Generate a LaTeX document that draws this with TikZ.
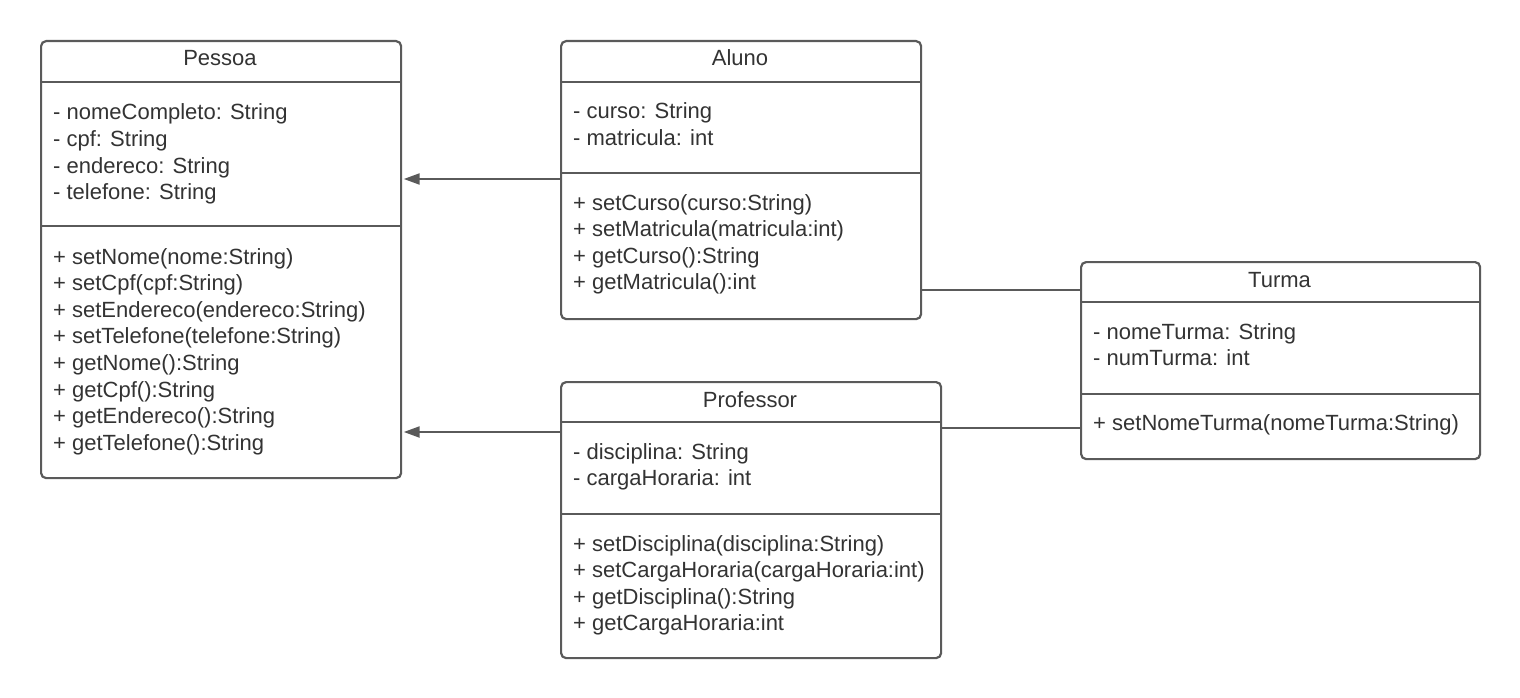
\documentclass[tikz,border=0pt]{standalone}
\usepackage{fontspec}
\setmainfont{Liberation Sans}
\usetikzlibrary{arrows.meta}
\definecolor{umlline}{HTML}{5A5A5A}
\definecolor{umltext}{HTML}{333333}

% class member lines: x, first baseline, name prefix, list of texts
\newcommand\umlmembers[4]{%
  \foreach \t [count=\i from 0] in {#4} {
    \node[txt, anchor=base west] (#3\i) at (#1, {#2+26.6*\i}) {\t};
  }%
}

\begin{document}
\begin{tikzpicture}[x=1pt, y=-1pt,
  box/.style={draw=umlline, line width=2.2pt, rounded corners=5pt, fill=white,
    anchor=north west, inner sep=0pt},
  sep/.style={draw=umlline, line width=2.2pt},
  txt/.style={inner sep=0pt, text=umltext, font=\fontsize{22}{26}\selectfont},
  title/.style={txt, anchor=base},
  link/.style={draw=umlline, line width=2.2pt},
  inherit/.style={link, -{Triangle[length=16pt, width=11pt]}}
]
\useasboundingbox (0,0) rectangle (1520,698);

% Pessoa
\node[box, minimum width=360pt, minimum height=437pt] (pessoa) at (40,40) {};
\draw[sep] (pessoa.west |- 0,82) -- (pessoa.east |- 0,82);
\draw[sep] (pessoa.west |- 0,226) -- (pessoa.east |- 0,226);
\node[title] (pessoaT) at (220,66) {Pessoa};
\umlmembers{53}{120}{pa}{{- nomeCompleto: String},{- cpf: String},{- endereco: String},{- telefone: String}}
\umlmembers{53}{264}{pm}{{+ setNome(nome:String)},{+ setCpf(cpf:String)},{+ setEndereco(endereco:String)},{+ setTelefone(telefone:String)},{+ getNome():String},{+ getCpf():String},{+ getEndereco():String},{+ getTelefone():String}}

% Aluno
\node[box, minimum width=360pt, minimum height=278pt] (aluno) at (560,40) {};
\draw[sep] (aluno.west |- 0,82) -- (aluno.east |- 0,82);
\draw[sep] (aluno.west |- 0,173) -- (aluno.east |- 0,173);
\node[title] (alunoT) at (740,66) {Aluno};
\umlmembers{573}{119}{aa}{{- curso: String},{- matricula: int}}
\umlmembers{573}{210}{am}{{+ setCurso(curso:String)},{+ setMatricula(matricula:int)},{+ getCurso():String},{+ getMatricula():int}}

% Professor
\node[box, minimum width=380pt, minimum height=276pt] (professor) at (560,381) {};
\draw[sep] (professor.west |- 0,422) -- (professor.east |- 0,422);
\draw[sep] (professor.west |- 0,514) -- (professor.east |- 0,514);
\node[title] (professorT) at (750,407) {Professor};
\umlmembers{573}{459}{ra}{{- disciplina: String},{- cargaHoraria: int}}
\umlmembers{573}{551}{rm}{{+ setDisciplina(disciplina:String)},{+ setCargaHoraria(cargaHoraria:int)},{+ getDisciplina():String},{+ getCargaHoraria:int}}

% Turma
\node[box, minimum width=399pt, minimum height=197pt] (turma) at (1080,261) {};
\draw[sep] (turma.west |- 0,302) -- (turma.east |- 0,302);
\draw[sep] (turma.west |- 0,394) -- (turma.east |- 0,394);
\node[title] (turmaT) at (1279.5,287) {Turma};
\umlmembers{1093}{339}{ta}{{- nomeTurma: String},{- numTurma: int}}
\umlmembers{1093}{430}{tm}{{+ setNomeTurma(nomeTurma:String)}}

% generalisation arrows
\draw[inherit] (aluno.west |- 0,179) -- ([xshift=1.5pt]pessoa.east |- 0,179);
\draw[inherit] (professor.west |- 0,432) -- ([xshift=1.5pt]pessoa.east |- 0,432);

% associations
\draw[link] (aluno.east |- 0,290) -- (turma.west |- 0,290);
\draw[link] (professor.east |- 0,428) -- (turma.west |- 0,428);
\end{tikzpicture}
\end{document}
